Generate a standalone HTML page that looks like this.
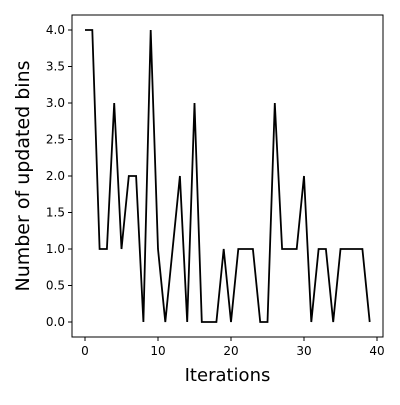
<!DOCTYPE html>
<html><head><meta charset="utf-8"><style>body{margin:0;background:#fff}svg{font-family:"DejaVu Sans",sans-serif}</style></head>
<body>
<svg id="c" width="400" height="400"></svg>
<script>
const iterations=[...Array(40).keys()];
const updatedBins=[4,4,1,1,3,1,2,2,0,4,1,0,1,2,0,3,0,0,0,1,0,1,1,1,0,0,3,1,1,1,2,0,1,1,0,1,1,1,1,0];
const xTicks=[0,10,20,30,40];
const yTicks=[0,0.5,1,1.5,2,2.5,3,3.5,4];
const yTickLabels=["0.0","0.5","1.0","1.5","2.0","2.5","3.0","3.5","4.0"];
const svg=document.getElementById('c');const NS='http://www.w3.org/2000/svg';
const L=72,R=383,T=15,B=337;
const xs=v=>85+v*7.3, ys=v=>322-v*73;
function el(t,a,txt){const e=document.createElementNS(NS,t);for(const k in a)e.setAttribute(k,a[k]);if(txt!=null)e.textContent=txt;svg.appendChild(e);return e;}
const fr=el('rect',{x:L,y:T,width:R-L,height:B-T,fill:'none',stroke:'#000','stroke-width':1});


xTicks.forEach(t=>{const x=xs(t);
const l=el('line',{x1:x,x2:x,y1:B,y2:B+4,stroke:'#000'});


const tx=el('text',{x:x,y:B+18,'text-anchor':'middle','font-size':12},String(t));

});
yTicks.forEach((t,i)=>{const y=ys(t);
const l=el('line',{x1:L-4,x2:L,y1:y,y2:y,stroke:'#000'});


const tx=el('text',{x:L-7,y:y+4,'text-anchor':'end','font-size':12},yTickLabels[i]);

});
const p=el('polyline',{points:iterations.map((x,i)=>xs(x)+','+ys(updatedBins[i])).join(' '),fill:'none',stroke:'#000','stroke-width':1.8});


const xl=el('text',{x:(L+R)/2,y:381,'text-anchor':'middle','font-size':18},'Iterations');


const yl=el('text',{x:0,y:0,'text-anchor':'middle','font-size':19,transform:'translate(29,176) rotate(-90)'},'Number of updated bins');


</script>
</body></html>
